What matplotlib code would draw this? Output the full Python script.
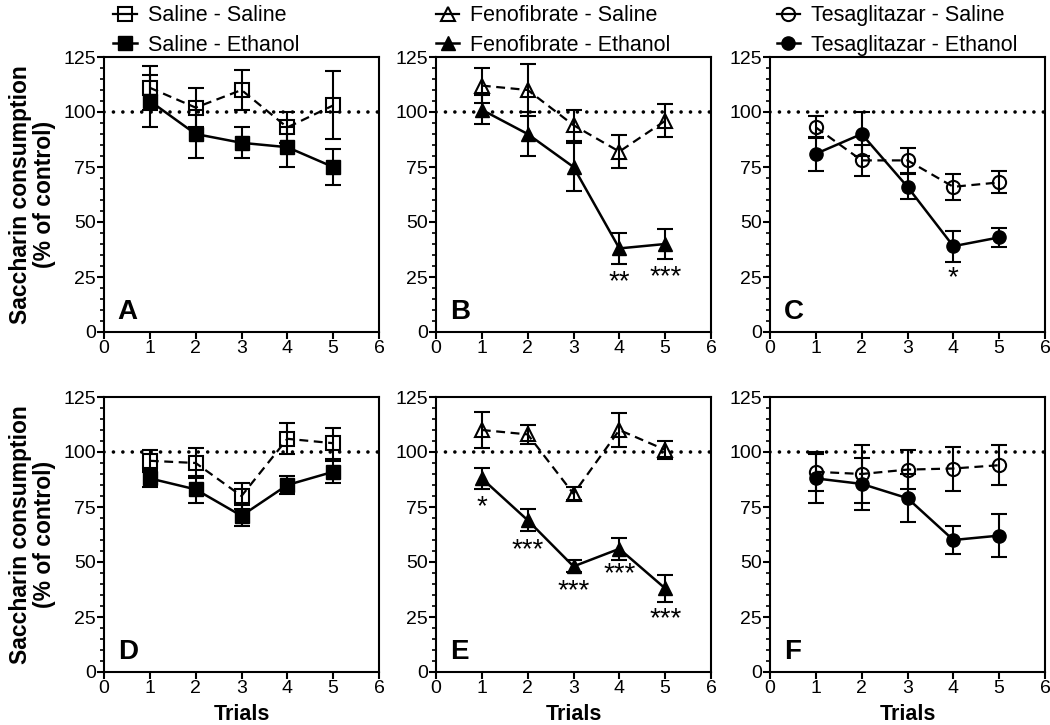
import matplotlib
matplotlib.use("Agg")
import matplotlib.pyplot as plt
from matplotlib.ticker import MultipleLocator

plt.rcParams["font.family"] = ["Liberation Sans", "DejaVu Sans"]

trials = [1, 2, 3, 4, 5]

# top row (A, B, C)
a_sal_sal = [111, 102, 110, 93, 103]
a_sal_sal_err = [10, 9, 9, 7, 15.5]
a_sal_eth = [105, 90, 86, 84, 75]
a_sal_eth_err = [12, 11, 7, 9, 8]

b_fen_sal = [112, 110, 94, 82, 96]
b_fen_sal_err = [8, 12, 7, 7.5, 7.5]
b_fen_eth = [101, 90, 75, 38, 40]
b_fen_eth_err = [6.5, 10, 11, 7, 6.6]

c_tes_sal = [93, 78, 78, 66, 68]
c_tes_sal_err = [5, 7, 5.7, 6, 5]
c_tes_eth = [81, 90, 66, 39, 43]
c_tes_eth_err = [7.8, 10, 5.7, 7, 4.3]

# bottom row (D, E, F)
d_sal_sal = [96, 95, 80, 106, 104]
d_sal_sal_err = [5, 7, 6, 7, 7]
d_sal_eth = [88, 83, 71, 85, 91]
d_sal_eth_err = [4, 6, 4.8, 4, 5]

e_fen_sal = [110, 108, 81, 110, 101]
e_fen_sal_err = [8.4, 4.2, 3, 7.8, 4]
e_fen_eth = [88, 69, 48, 56, 38]
e_fen_eth_err = [4.6, 5, 2.7, 5, 6.1]

f_tes_sal = [91, 90, 92, 92.5, 94]
f_tes_sal_err = [8.8, 13, 9, 10, 9]
f_tes_eth = [88, 85.5, 79, 60, 62]
f_tes_eth_err = [11, 12, 11, 6.4, 9.6]

legend_labels = [
    ("Saline - Saline", "Saline - Ethanol"),
    ("Fenofibrate - Saline", "Fenofibrate - Ethanol"),
    ("Tesaglitazar - Saline", "Tesaglitazar - Ethanol"),
]
markers = ["s", "^", "o"]
panel_letters = ["A", "B", "C", "D", "E", "F"]

# significance stars: (trial, label, y)
stars = {
    "B": [(4, "**", 22.5), (5, "***", 25)],
    "C": [(4, "*", 24.5)],
    "E": [(1, "*", 75), (2, "***", 55.5), (3, "***", 36.5), (4, "***", 44.5), (5, "***", 24)],
}

panels = [
    (a_sal_sal, a_sal_sal_err, a_sal_eth, a_sal_eth_err),
    (b_fen_sal, b_fen_sal_err, b_fen_eth, b_fen_eth_err),
    (c_tes_sal, c_tes_sal_err, c_tes_eth, c_tes_eth_err),
    (d_sal_sal, d_sal_sal_err, d_sal_eth, d_sal_eth_err),
    (e_fen_sal, e_fen_sal_err, e_fen_eth, e_fen_eth_err),
    (f_tes_sal, f_tes_sal_err, f_tes_eth, f_tes_eth_err),
]

fig = plt.figure(figsize=(10.5, 7.25), dpi=100)
lefts = [104 / 1050, 436 / 1050, 770 / 1050]
bottoms = [(725 - 332) / 725, (725 - 672) / 725]
w, h = 275 / 1050, 275 / 725
legend_x = [0.03, -0.005, 0.02]

for i, (sal, sal_err, eth, eth_err) in enumerate(panels):
    row, col = divmod(i, 3)
    ax = fig.add_axes([lefts[col], bottoms[row], w, h])
    mk = markers[col]
    ms = 10 if mk != "o" else 9.5

    ax.plot([0, 6], [100, 100], color="black", linestyle=(0, (0.01, 2.6)),
            linewidth=2.6, dash_capstyle="round", zorder=1)

    ax.errorbar(trials, sal, yerr=sal_err, color="black", linestyle=(0, (4, 2.5)),
                linewidth=1.6, marker=mk, markersize=ms, markerfacecolor="none",
                markeredgecolor="black", markeredgewidth=1.5, capsize=6,
                capthick=1.5, elinewidth=1.5, zorder=3)
    ax.errorbar(trials, eth, yerr=eth_err, color="black", linestyle="-",
                linewidth=1.8, marker=mk, markersize=ms, markerfacecolor="black",
                markeredgecolor="black", capsize=6, capthick=1.5,
                elinewidth=1.5, zorder=4)

    letter = panel_letters[i]
    ax.text(0.3, 6, letter, fontsize=20, fontweight="bold", ha="left", va="baseline")
    for tx, lab, ty in stars.get(letter, []):
        ax.text(tx, ty, lab, fontsize=20, ha="center", va="center")

    ax.set_xlim(0, 6)
    ax.set_ylim(0, 125)
    ax.xaxis.set_major_locator(MultipleLocator(1))
    ax.yaxis.set_major_locator(MultipleLocator(25))
    ax.yaxis.set_minor_locator(MultipleLocator(5))
    ax.tick_params(axis="both", which="major", direction="out", length=5,
                   width=1.5, labelsize=14, pad=1)
    ax.tick_params(axis="y", which="minor", direction="out", length=3, width=1.2)
    for sp in ax.spines.values():
        sp.set_linewidth(1.5)

    if col == 0:
        ax.set_ylabel("Saccharin consumption\n(% of control)", fontsize=16.5,
                      fontweight="bold", labelpad=5, linespacing=1.05)
    if row == 1:
        ax.set_xlabel("Trials", fontsize=15.5, fontweight="bold", labelpad=5)
    if row == 0:
        h1 = plt.Line2D([], [], color="black", marker=mk, markersize=ms,
                        markerfacecolor="none", markeredgewidth=1.5, linewidth=1.6)
        h2 = plt.Line2D([], [], color="black", marker=mk, markersize=ms,
                        markerfacecolor="black", linewidth=1.8)
        ax.legend([h1, h2], legend_labels[col], loc="lower left",
                  bbox_to_anchor=(legend_x[col], 1.0), frameon=False, fontsize=15.5,
                  handlelength=1.1, handletextpad=0.5, labelspacing=0.4,
                  borderaxespad=0.05, borderpad=0.0)

fig.savefig("out.png", dpi=100)
